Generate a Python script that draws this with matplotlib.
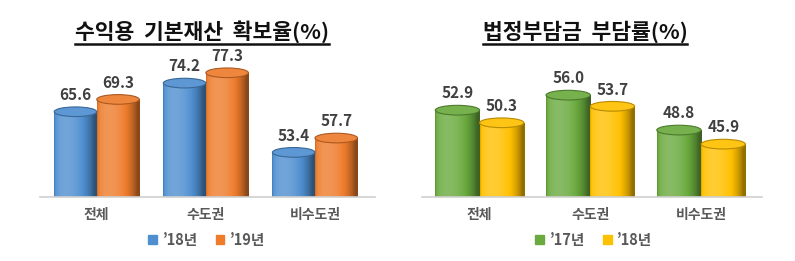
import numpy as np
import matplotlib
matplotlib.use('Agg')
import matplotlib.pyplot as plt
from matplotlib.patches import Ellipse, Patch
from matplotlib.lines import Line2D
from matplotlib.colors import to_rgb

plt.rcParams['font.family'] = ['Noto Sans CJK KR', 'DejaVu Sans']

# 데이터
categories = ['전체', '수도권', '비수도권']

left_title = '수익용  기본재산  확보율(%)'
left_labels = ['\u201918년', '\u201919년']
left_a = [65.6, 74.2, 53.4]
left_b = [69.3, 77.3, 57.7]

right_title = '법정부담금  부담률(%)'
right_labels = ['\u201917년', '\u201918년']
right_a = [52.9, 56.0, 48.8]
right_b = [50.3, 53.7, 45.9]

blue, orange = '#4f8fd0', '#ee7c2c'
green, yellow = '#6aaa3e', '#ffc000'


def shade(c, b):
    c = np.array(to_rgb(c))
    if b < 1:
        return c * b
    return c + (1 - c) * min(b - 1, 1)


def cyl_gradient(color, n=64):
    # 원기둥 음영 (왼쪽 앞에서 빛)
    t = np.linspace(0, 1, n)
    nx = 2 * t - 1
    nz = np.sqrt(np.clip(1 - nx ** 2, 0, 1))
    lx, lz = -0.45, 0.89
    d = np.clip(nx * lx + nz * lz, 0, 1)
    b = 0.58 + 0.62 * d
    img = np.array([shade(color, v) for v in b])
    return img[np.newaxis, :, :]


def draw_panel(ax, a, b, colors, ymin, ymax, width, ell_h):
    x = np.arange(len(categories))
    for vals, off, col in [(a, -width / 2, colors[0]), (b, width / 2, colors[1])]:
        bars = ax.bar(x + off, [v - ymin for v in vals], width, bottom=ymin,
                      facecolor='none', edgecolor='none', zorder=2)
        grad = cyl_gradient(col)
        for bar, v in zip(bars, vals):
            x0 = bar.get_x()
            im = ax.imshow(grad, extent=(x0, x0 + width, ymin, v), aspect='auto',
                           zorder=2, interpolation='bilinear')
            im.set_clip_path(bar)
            ax.add_patch(Ellipse((x0 + width / 2, v), width, ell_h,
                                 facecolor=shade(col, 1.08), edgecolor=shade(col, 0.72),
                                 linewidth=0.8, zorder=3))
            ax.text(x0 + width / 2, v + ell_h * 0.9, f'{v:.1f}',
                    ha='center', va='bottom', fontsize=11, fontweight='bold',
                    color='#404040', zorder=4)
    ax.set_ylim(ymin, ymax)
    ax.set_xlim(-0.52, 2.55)
    ax.set_xticks(x)
    ax.set_xticklabels(categories, fontsize=10, fontweight='bold', color='#595959')
    ax.tick_params(axis='x', length=0, pad=8)
    ax.set_yticks([])
    for s in ['top', 'left', 'right']:
        ax.spines[s].set_visible(False)
    ax.spines['bottom'].set_color('#d0d0d0')
    ax.spines['bottom'].set_linewidth(1.2)
    ax.patch.set_alpha(0)


fig = plt.figure(figsize=(7.95, 2.61), dpi=100)

ax1 = fig.add_axes([40 / 795, 64 / 261, 335 / 795, 147 / 261])
draw_panel(ax1, left_a, left_b, (blue, orange), 40, 40 + 147 / 3.33, 0.39, 2.9)

ax2 = fig.add_axes([422 / 795, 64 / 261, 340 / 795, 147 / 261])
draw_panel(ax2, right_a, right_b, (green, yellow), 35, 35 + 147 / 4.85, 0.40, 2.0)

# 범례
legend_kw = dict(loc='center', ncol=2, frameon=False, handlelength=0.6,
                 handleheight=0.6, handletextpad=0.4, columnspacing=1.2,
                 labelcolor='#595959', prop={'weight': 'bold', 'size': 10.5})
fig.legend(handles=[Patch(color=blue), Patch(color=orange)], labels=left_labels,
           bbox_to_anchor=(207 / 795, 1 - 240 / 261), **legend_kw)
fig.legend(handles=[Patch(color=green), Patch(color=yellow)], labels=right_labels,
           bbox_to_anchor=(594 / 795, 1 - 240 / 261), **legend_kw)

# 제목 (밑줄)
renderer = fig.canvas.get_renderer()
for title, cx in [(left_title, 202), (right_title, 585)]:
    t = fig.text(cx / 795, 1 - 32 / 261, title, ha='center', va='center',
                 fontsize=15.5, fontweight='bold', color='#111111')
    bb = t.get_window_extent(renderer=renderer)
    y = (bb.y0 - 1) / fig.bbox.height
    fig.add_artist(Line2D([bb.x0 / fig.bbox.width, bb.x1 / fig.bbox.width], [y, y],
                          color='#111111', linewidth=1.8))

fig.savefig('out.png', dpi=100)
